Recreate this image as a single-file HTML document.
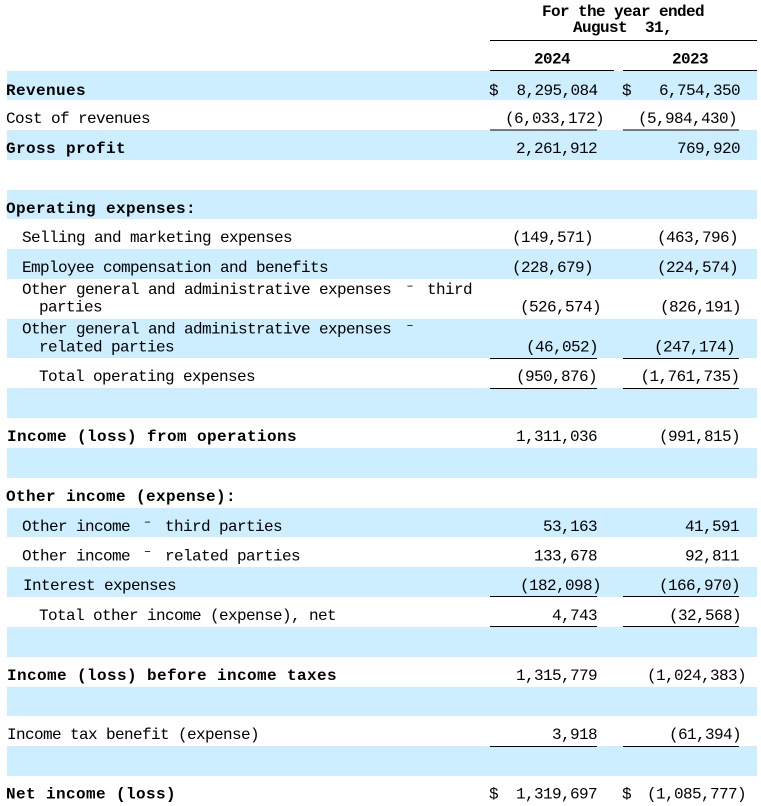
<!DOCTYPE html>
<html><head><meta charset="utf-8"><style>
html,body{margin:0;padding:0;background:#fff;}
svg{display:block;}
text{font-family:"Liberation Mono","DejaVu Sans Mono",monospace;font-size:16px;fill:#000;letter-spacing:-0.6px;}
.b{font-weight:bold;letter-spacing:0.4px;}
.h{font-weight:bold;letter-spacing:-0.6px;}
.n{text-anchor:end;}
.d{font-size:12px;letter-spacing:0;text-anchor:middle;}
</style></head><body>
<svg width="761" height="806" viewBox="0 0 761 806" xmlns="http://www.w3.org/2000/svg">
<g fill="#CCEEFF">
<rect x="7" y="71" width="750" height="29"/>
<rect x="7" y="130" width="750" height="30"/>
<rect x="7" y="190" width="750" height="29"/>
<rect x="7" y="249" width="750" height="30"/>
<rect x="7" y="319" width="750" height="39"/>
<rect x="7" y="388" width="750" height="30"/>
<rect x="7" y="448" width="750" height="30"/>
<rect x="7" y="508" width="750" height="29"/>
<rect x="7" y="567" width="750" height="30"/>
<rect x="7" y="627" width="750" height="30"/>
<rect x="7" y="687" width="750" height="29"/>
<rect x="7" y="746" width="750" height="30"/>
</g>
<g fill="#000">
<rect x="490" y="40" width="267" height="1"/>
<rect x="490" y="70" width="124" height="1"/>
<rect x="623" y="70" width="134" height="1"/>
<rect x="490" y="129.5" width="107" height="1"/>
<rect x="623" y="129.5" width="116" height="1"/>
<rect x="490" y="358" width="107" height="1"/>
<rect x="623" y="358" width="116" height="1"/>
<rect x="490" y="388" width="107" height="1"/>
<rect x="623" y="388" width="116" height="1"/>
<rect x="490" y="596" width="107" height="1"/>
<rect x="623" y="596" width="116" height="1"/>
<rect x="490" y="626" width="107" height="1"/>
<rect x="623" y="626" width="116" height="1"/>
<rect x="490" y="746" width="107" height="1"/>
<rect x="623" y="746" width="116" height="1"/>
</g>

<!-- header -->
<text class="h" x="542" y="16">For the year ended</text>
<text class="h" x="573" y="32">August</text>
<text class="h" x="645" y="32">31,</text>
<text class="h" x="534" y="63.5">2024</text>
<text class="h" x="672" y="63.5">2023</text>

<!-- labels -->
<text class="b" x="6" y="95">Revenues</text>
<text x="6" y="123">Cost of revenues</text>
<text class="b" x="6" y="153">Gross profit</text>
<text class="b" x="6" y="213">Operating expenses:</text>
<text x="22" y="242">Selling and marketing expenses</text>
<text x="22" y="272">Employee compensation and benefits</text>
<text x="22" y="294">Other general and administrative expenses</text>
<text class="d" x="410" y="289">–</text>
<text x="427" y="294">third</text>
<text x="39" y="311.5">parties</text>
<text x="22" y="333.5">Other general and administrative expenses</text>
<text class="d" x="410" y="328.5">–</text>
<text x="39" y="351.5">related parties</text>
<text x="39" y="381">Total operating expenses</text>
<text class="b" x="7" y="441">Income (loss) from operations</text>
<text class="b" x="6" y="501">Other income (expense):</text>
<text x="22" y="531">Other income</text>
<text class="d" x="147.5" y="525">–</text>
<text x="165" y="531">third parties</text>
<text x="22" y="560.5">Other income</text>
<text class="d" x="147.5" y="554.5">–</text>
<text x="165" y="560.5">related parties</text>
<text x="23" y="590">Interest expenses</text>
<text x="39" y="620">Total other income (expense), net</text>
<text class="b" x="7" y="680">Income (loss) before income taxes</text>
<text x="7" y="739">Income tax benefit (expense)</text>
<text class="b" x="6" y="798.5">Net income (loss)</text>

<!-- dollar signs -->
<text x="489" y="95">$</text>
<text x="622" y="95">$</text>
<text x="489" y="798.5">$</text>
<text x="622" y="798.5">$</text>

<!-- 2024 column -->
<text class="n" x="597.5" y="95">8,295,084</text>
<text class="n" x="604" y="123">(6,033,172)</text>
<text class="n" x="597" y="153">2,261,912</text>
<text class="n" x="593" y="242">(149,571)</text>
<text class="n" x="593" y="272">(228,679)</text>
<text class="n" x="601" y="311.5">(526,574)</text>
<text class="n" x="598" y="351.5">(46,052)</text>
<text class="n" x="597" y="381">(950,876)</text>
<text class="n" x="597" y="441">1,311,036</text>
<text class="n" x="597" y="531">53,163</text>
<text class="n" x="597" y="560.5">133,678</text>
<text class="n" x="601" y="590">(182,098)</text>
<text class="n" x="597" y="620">4,743</text>
<text class="n" x="597" y="680">1,315,779</text>
<text class="n" x="597" y="739">3,918</text>
<text class="n" x="597" y="798.5">1,319,697</text>

<!-- 2023 column -->
<text class="n" x="740" y="95">6,754,350</text>
<text class="n" x="737" y="123">(5,984,430)</text>
<text class="n" x="740" y="153">769,920</text>
<text class="n" x="738" y="242">(463,796)</text>
<text class="n" x="738" y="272">(224,574)</text>
<text class="n" x="741" y="311.5">(826,191)</text>
<text class="n" x="735" y="351.5">(247,174)</text>
<text class="n" x="739.5" y="381">(1,761,735)</text>
<text class="n" x="740" y="441">(991,815)</text>
<text class="n" x="739" y="531">41,591</text>
<text class="n" x="739" y="560.5">92,811</text>
<text class="n" x="740" y="590">(166,970)</text>
<text class="n" x="741" y="620">(32,568)</text>
<text class="n" x="746" y="680">(1,024,383)</text>
<text class="n" x="741" y="739">(61,394)</text>
<text class="n" x="746" y="798.5">(1,085,777)</text>
</svg>
</body></html>
